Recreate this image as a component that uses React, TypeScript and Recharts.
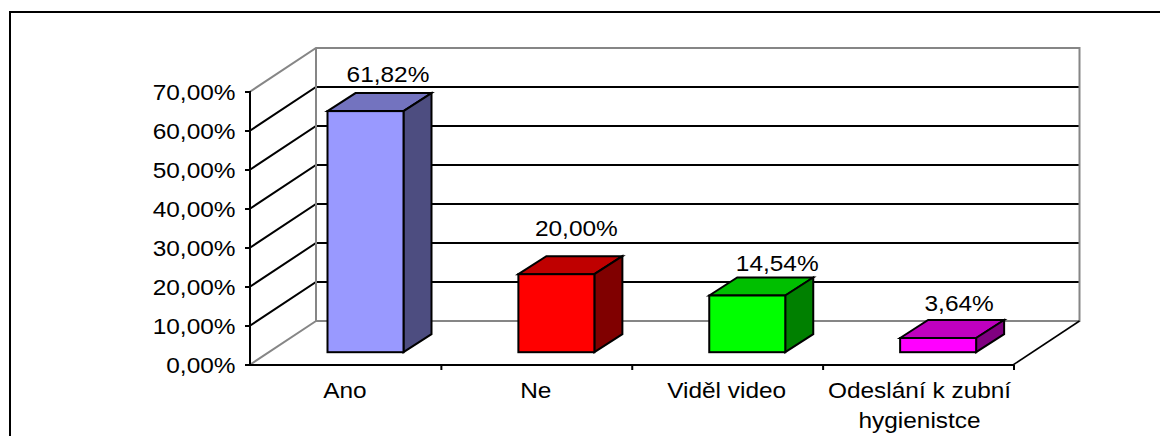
import { Bar, BarChart, CartesianGrid, Cell, LabelList, XAxis, YAxis, usePlotArea } from "recharts";

const categories = ["Ano", "Ne", "Viděl video", "Odeslání k zubní hygienistce"];
const shares = [61.82, 20.0, 14.54, 3.64];
const barColors = ["#9999ff", "#ff0000", "#00ff00", "#ff00ff"];
const yTicks = [0, 10, 20, 30, 40, 50, 60, 70];

const rows = categories.map((name, i) => ({ name, share: shares[i] }));

// per-label nudges relative to the centre of the bar's front face
const labelNudge = [
  { dx: 3.5, dy: -36.5 },
  { dx: 1, dy: -45.5 },
  { dx: 11, dy: -32 },
  { dx: 2, dy: -35 },
];

const FONT = "'Liberation Sans', Arial, sans-serif";
const TEXT_SIZE = 22;
const TEXT_STRETCH = 1.11;

const PLOT_LEFT = 249.5;
const PLOT_TOP = 92;
const PLOT_HEIGHT = 273;

const WALL_DX = 66.5;
const WALL_DY = 44;
const GRAY = "#868686";

// how far the columns sit inside the floor, and how deep they are
const BAR_SHIFT_X = 21;
const BAR_SHIFT_Y = 12.8;
const BAR_DX = 28;
const BAR_DY = 18;

const percent = (v: number) => `${v.toFixed(2).replace(".", ",")}%`;

function shade(hex: string, k: number) {
  const n = parseInt(hex.slice(1), 16);
  const ch = (s: number) => Math.round(((n >> s) & 255) * k);
  return `rgb(${ch(16)},${ch(8)},${ch(0)})`;
}

function WallFrame() {
  const plot = usePlotArea();
  if (!plot) return null;
  const { x, y, width, height } = plot;
  const bottom = y + height;
  const right = x + width;
  return (
    <g fill="none" strokeWidth={2}>
      <path
        stroke={GRAY}
        d={`M${x},${y} L${x + WALL_DX},${y - WALL_DY} H${right + WALL_DX} V${bottom - WALL_DY} H${x + WALL_DX} V${y - WALL_DY}
            M${x},${bottom} L${x + WALL_DX},${bottom - WALL_DY}`}
      />
      <path stroke="#000" strokeWidth={1.5} d={`M${right},${bottom} L${right + WALL_DX},${bottom - WALL_DY}`} />
    </g>
  );
}

// value axis spine and tick marks, layered above the chart surface
function ValueSpine() {
  const left = Math.floor(PLOT_LEFT);
  const step = PLOT_HEIGHT / (yTicks.length - 1);
  return (
    <>
      <div style={{ position: "absolute", left, top: PLOT_TOP - 1, width: 2, height: PLOT_HEIGHT + 2, background: "#000" }} />
      {yTicks.map((t, i) => (
        <div
          key={t}
          style={{ position: "absolute", left: left - 4, top: Math.round(PLOT_TOP + i * step) - 1, width: 4, height: 2, background: "#000" }}
        />
      ))}
    </>
  );
}

// gridline running along the side wall and then across the back wall
function wallGridLine(props: any) {
  const { x1, x2, y1, index } = props;
  if (index === 0 || index === yTicks.length - 1) return <g key={index} />;
  return (
    <path
      key={index}
      fill="none"
      stroke="#000"
      strokeWidth={2}
      d={`M${x1},${y1} L${x1 + WALL_DX},${y1 - WALL_DY} H${x2 + WALL_DX}`}
    />
  );
}

function Column(props: any) {
  const { x, y, width, height, fill } = props;
  const l = x + BAR_SHIFT_X;
  const r = l + width;
  const t = y - BAR_SHIFT_Y;
  const b = t + height;
  return (
    <g stroke="#000" strokeWidth={2} strokeLinejoin="miter">
      <path fill={shade(fill, 0.75)} d={`M${l},${t} L${l + BAR_DX},${t - BAR_DY} H${r + BAR_DX} L${r},${t} Z`} />
      <path fill={shade(fill, 0.5)} d={`M${r},${t} L${r + BAR_DX},${t - BAR_DY} V${b - BAR_DY} L${r},${b} Z`} />
      <rect x={l} y={t} width={width} height={height} fill={fill} />
    </g>
  );
}

function StretchedText({ x, y, anchor, children }: any) {
  return (
    <text
      transform={`translate(${x},${y}) scale(${TEXT_STRETCH},1)`}
      textAnchor={anchor}
      dominantBaseline="central"
      fontFamily={FONT}
      fontSize={TEXT_SIZE}
      fill="#000"
    >
      {children}
    </text>
  );
}

function YTick({ x, y, payload }: any) {
  return (
    <StretchedText x={x - 7} y={y + 0.5} anchor="end">
      {percent(payload.value)}
    </StretchedText>
  );
}

function XTick({ x, y, payload, index }: any) {
  const words: string[] = String(payload.value).split(" ");
  const lines = words.length > 3 ? [words.slice(0, 3).join(" "), words.slice(3).join(" ")] : [words.join(" ")];
  // ticks mark the edges of the categories, not their centres
  const half = (payload.offset ?? 95.5) + 1;
  return (
    <g>
      <line x1={x + half} x2={x + half} y1={y - 8} y2={y - 3} stroke="#000" strokeWidth={2} />
      {lines.map((line, i) => (
        <StretchedText key={i} x={x + (index === 3 ? 2 : 0)} y={y + 17 + i * 30} anchor="middle">
          {line}
        </StretchedText>
      ))}
    </g>
  );
}

function ValueLabel({ x, y, width, value, index }: any) {
  const nudge = labelNudge[index];
  return (
    <StretchedText
      x={x + BAR_SHIFT_X + width / 2 + nudge.dx + 19}
      y={y - BAR_SHIFT_Y + nudge.dy}
      anchor="middle"
    >
      {percent(value)}
    </StretchedText>
  );
}

export default function App() {
  return (
    <div style={{ position: "absolute", left: 0, top: 0, width: 1160, height: 436, overflow: "hidden", background: "#fff" }}>
      <div style={{ position: "absolute", left: 9, top: 11, width: 1300, height: 600, border: "2px solid #000" }} />
      <div style={{ position: "absolute", left: 0, top: 0 }}>
        <BarChart
          width={1160}
          height={436}
          data={rows}
          margin={{ top: PLOT_TOP, right: 147, bottom: 31, left: PLOT_LEFT - 100 }}
          barCategoryGap={0}
        >
          <WallFrame />
          <CartesianGrid horizontal={wallGridLine} vertical={false} />
          <XAxis
            dataKey="name"
            height={40}
            interval={0}
            tick={<XTick />}
            tickLine={false}
            stroke="#000"
            strokeWidth={2}
          />
          <YAxis
            width={100}
            domain={[0, 70]}
            ticks={yTicks}
            tick={<YTick />}
            tickLine={false}
            axisLine={false}
            tickSize={5}
          />
          <Bar dataKey="share" barSize={76} isAnimationActive={false} shape={<Column />}>
            {rows.map((row, i) => (
              <Cell key={row.name} fill={barColors[i]} />
            ))}
            <LabelList dataKey="share" content={<ValueLabel />} />
          </Bar>
        </BarChart>
      </div>
      <ValueSpine />
    </div>
  );
}
